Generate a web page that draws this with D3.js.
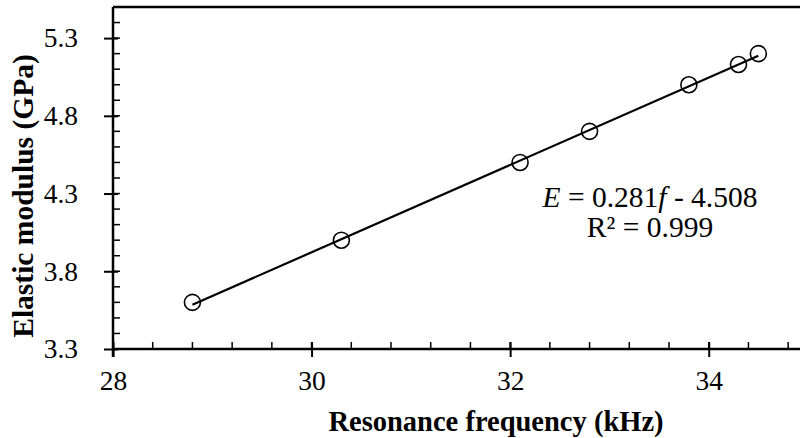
<!DOCTYPE html>
<html lang="en">
<head>
    <meta charset="UTF-8">
    <title>Elastic modulus vs resonance frequency</title>
    <style>
        body { margin: 0; background: #fff; }
        svg text { font-family: "Liberation Serif", "Times New Roman", Times, "DejaVu Serif", serif; fill: #000; }
    </style>
    <script src="https://cdn.jsdelivr.net/npm/d3@7"></script>
</head>
<body>
<script>
    // measured points
    var freq = [28.8, 30.3, 32.1, 32.8, 33.8, 34.3, 34.5];
    var modulus = [3.6, 4.0, 4.5, 4.7, 5.0, 5.13, 5.2];
    // fitted line E = 0.281 f - 4.508
    var slope = 0.281, intercept = -4.508;
    var xTicks = [28, 30, 32, 34];
    var yTicks = [3.3, 3.8, 4.3, 4.8, 5.3];

    var width = 800, height = 438;
    var serif = "Liberation Serif, Times New Roman, serif";
    var svg = d3.select("body").append("svg")
        .attr("width", width)
        .attr("height", height)
        .attr("font-family", serif);

    var x = d3.scaleLinear().domain([28, 35]).range([113, 808]);
    var y = d3.scaleLinear().domain([3.3, 5.5]).range([349, 7]);

    // frame top + right
    svg.append("path")
        .attr("d", "M" + x(28) + "," + y(5.5) + "H" + x(35) + "V" + y(3.3))
        .attr("fill", "none").attr("stroke", "#000").attr("stroke-width", 2.5);

    // minor ticks (inside)
    var xMinor = d3.range(28, 35.01, 0.4);
    var yMinor = d3.range(3.3, 5.51, 0.1);
    svg.append("g").selectAll("line").data(xMinor).join("line")
        .attr("x1", d => x(d)).attr("x2", d => x(d))
        .attr("y1", y(3.3)).attr("y2", y(3.3) - 7)
        .attr("stroke", "#000").attr("stroke-width", 1.5);
    svg.append("g").selectAll("line").data(yMinor).join("line")
        .attr("x1", x(28)).attr("x2", x(28) + 7)
        .attr("y1", d => y(d)).attr("y2", d => y(d))
        .attr("stroke", "#000").attr("stroke-width", 1.5);

    // x axis
    var xAxis = d3.axisBottom(x).tickValues(xTicks).tickFormat(d3.format("d"))
        .tickSize(8).tickPadding(13).tickSizeOuter(0);
    var gx = svg.append("g").attr("transform", "translate(0," + y(3.3) + ")").call(xAxis)
        .attr("font-family", serif);
    gx.select(".domain").attr("d", "M" + x(28) + ",0H" + x(35)).attr("stroke-width", 2.5);
    gx.selectAll(".tick line").attr("y1", -7).attr("stroke-width", 2);
    gx.selectAll(".tick text").attr("font-size", 27.5);

    // y axis
    var yAxis = d3.axisLeft(y).tickValues(yTicks).tickFormat(d3.format(".1f"))
        .tickSize(9).tickPadding(26).tickSizeOuter(0);
    var gy = svg.append("g").attr("transform", "translate(" + x(28) + ",0)").call(yAxis)
        .attr("font-family", serif);
    gy.select(".domain").attr("d", "M0," + y(5.5) + "V" + (y(3.3) + 8)).attr("stroke-width", 2.5);
    gy.selectAll(".tick line").attr("x1", 5).attr("stroke-width", 2);
    gy.selectAll(".tick text").attr("font-size", 27.5).attr("x", -35);

    // trend line
    svg.append("line")
        .attr("x1", x(d3.min(freq))).attr("y1", y(slope * d3.min(freq) + intercept))
        .attr("x2", x(d3.max(freq))).attr("y2", y(slope * d3.max(freq) + intercept))
        .attr("stroke", "#000").attr("stroke-width", 2.2);

    // markers
    svg.append("g").selectAll("circle").data(freq).join("circle")
        .attr("cx", d => x(d))
        .attr("cy", (d, i) => y(modulus[i]))
        .attr("r", 8)
        .attr("fill", "none")
        .attr("stroke", "#000")
        .attr("stroke-width", 1.6);

    // equation
    var eq = svg.append("text").attr("x", 650).attr("y", 207)
        .attr("text-anchor", "middle").attr("font-size", 29.5);
    eq.append("tspan").attr("font-style", "italic").text("E");
    eq.append("tspan").text(" = 0.281");
    eq.append("tspan").attr("font-style", "italic").text("f");
    eq.append("tspan").text(" - 4.508");
    svg.append("text").attr("x", 650).attr("y", 237)
        .attr("text-anchor", "middle").attr("font-size", 29.5)
        .text("R\u00b2 = 0.999");

    // axis titles
    svg.append("text")
        .attr("x", 496).attr("y", 431)
        .attr("text-anchor", "middle")
        .attr("font-size", 28.5).attr("font-weight", "bold")
        .text("Resonance frequency (kHz)");
    svg.append("text")
        .attr("transform", "translate(33,196) rotate(-90)")
        .attr("text-anchor", "middle")
        .attr("font-size", 29.5).attr("font-weight", "bold")
        .text("Elastic modulus (GPa)");
</script>
</body>
</html>
